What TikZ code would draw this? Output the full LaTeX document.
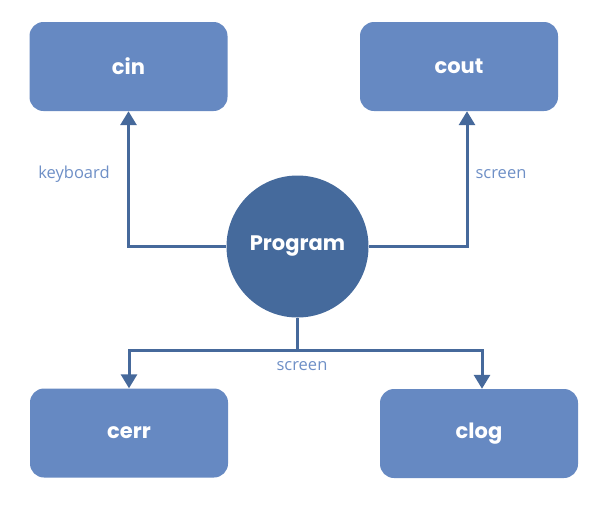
\documentclass[tikz,border=0pt]{standalone}
\usepackage{fontspec}
\setmainfont{Poppins}
\newfontfamily\labelfont{Open Sans}
\usetikzlibrary{arrows.meta}
\definecolor{boxfill}{HTML}{6689C2}
\definecolor{circfill}{HTML}{456A9C}
\definecolor{linecol}{HTML}{46699B}
\definecolor{labcol}{HTML}{6E8FC6}
\tikzset{
  iobox/.style={draw=none, fill=boxfill, rounded corners=14pt, minimum width=198pt, minimum height=89pt, inner sep=0pt, text=white, font=\fontsize{21}{24}\selectfont\bfseries},
  prog/.style={circle, fill=circfill, minimum size=142pt, inner sep=0pt, text=white, font=\fontsize{21}{24}\selectfont\bfseries},
  conn/.style={draw=linecol, line width=3pt, -{Triangle[length=14pt, width=16pt]}},
  plain/.style={draw=linecol, line width=3pt},
  lab/.style={text=labcol, font=\labelfont\fontsize{16.5}{18}\selectfont}
}
\begin{document}
\begin{tikzpicture}[x=1pt, y=-1pt]
\useasboundingbox (0,0) rectangle (595,520);
\node[iobox] (cin) at (128.5,66.5) {cin};
\node[iobox] (cout) at (459,66.5) {cout};
\node[iobox] (cerr) at (129,433) {cerr};
\node[iobox] (clog) at (479,433.5) {clog};
\node[prog] (prog) at (297.5,246.5) {Program};
\coordinate (split) at (297.5,350);
\draw[conn] (prog.west) -| (cin.south);
\draw[conn] (prog.east) -| (cout.south -| 467,0);
\draw[plain] (prog.south) -- (split);
\draw[conn] (split) -| (cerr.north);
\draw[conn] (split) -| (clog.north -| 482,0);
\node[lab] (kb) at (74,174) {keyboard};
\node[lab] (scr1) at (501,174) {screen};
\node[lab] (scr2) at (302,366) {screen};
\end{tikzpicture}
\end{document}
